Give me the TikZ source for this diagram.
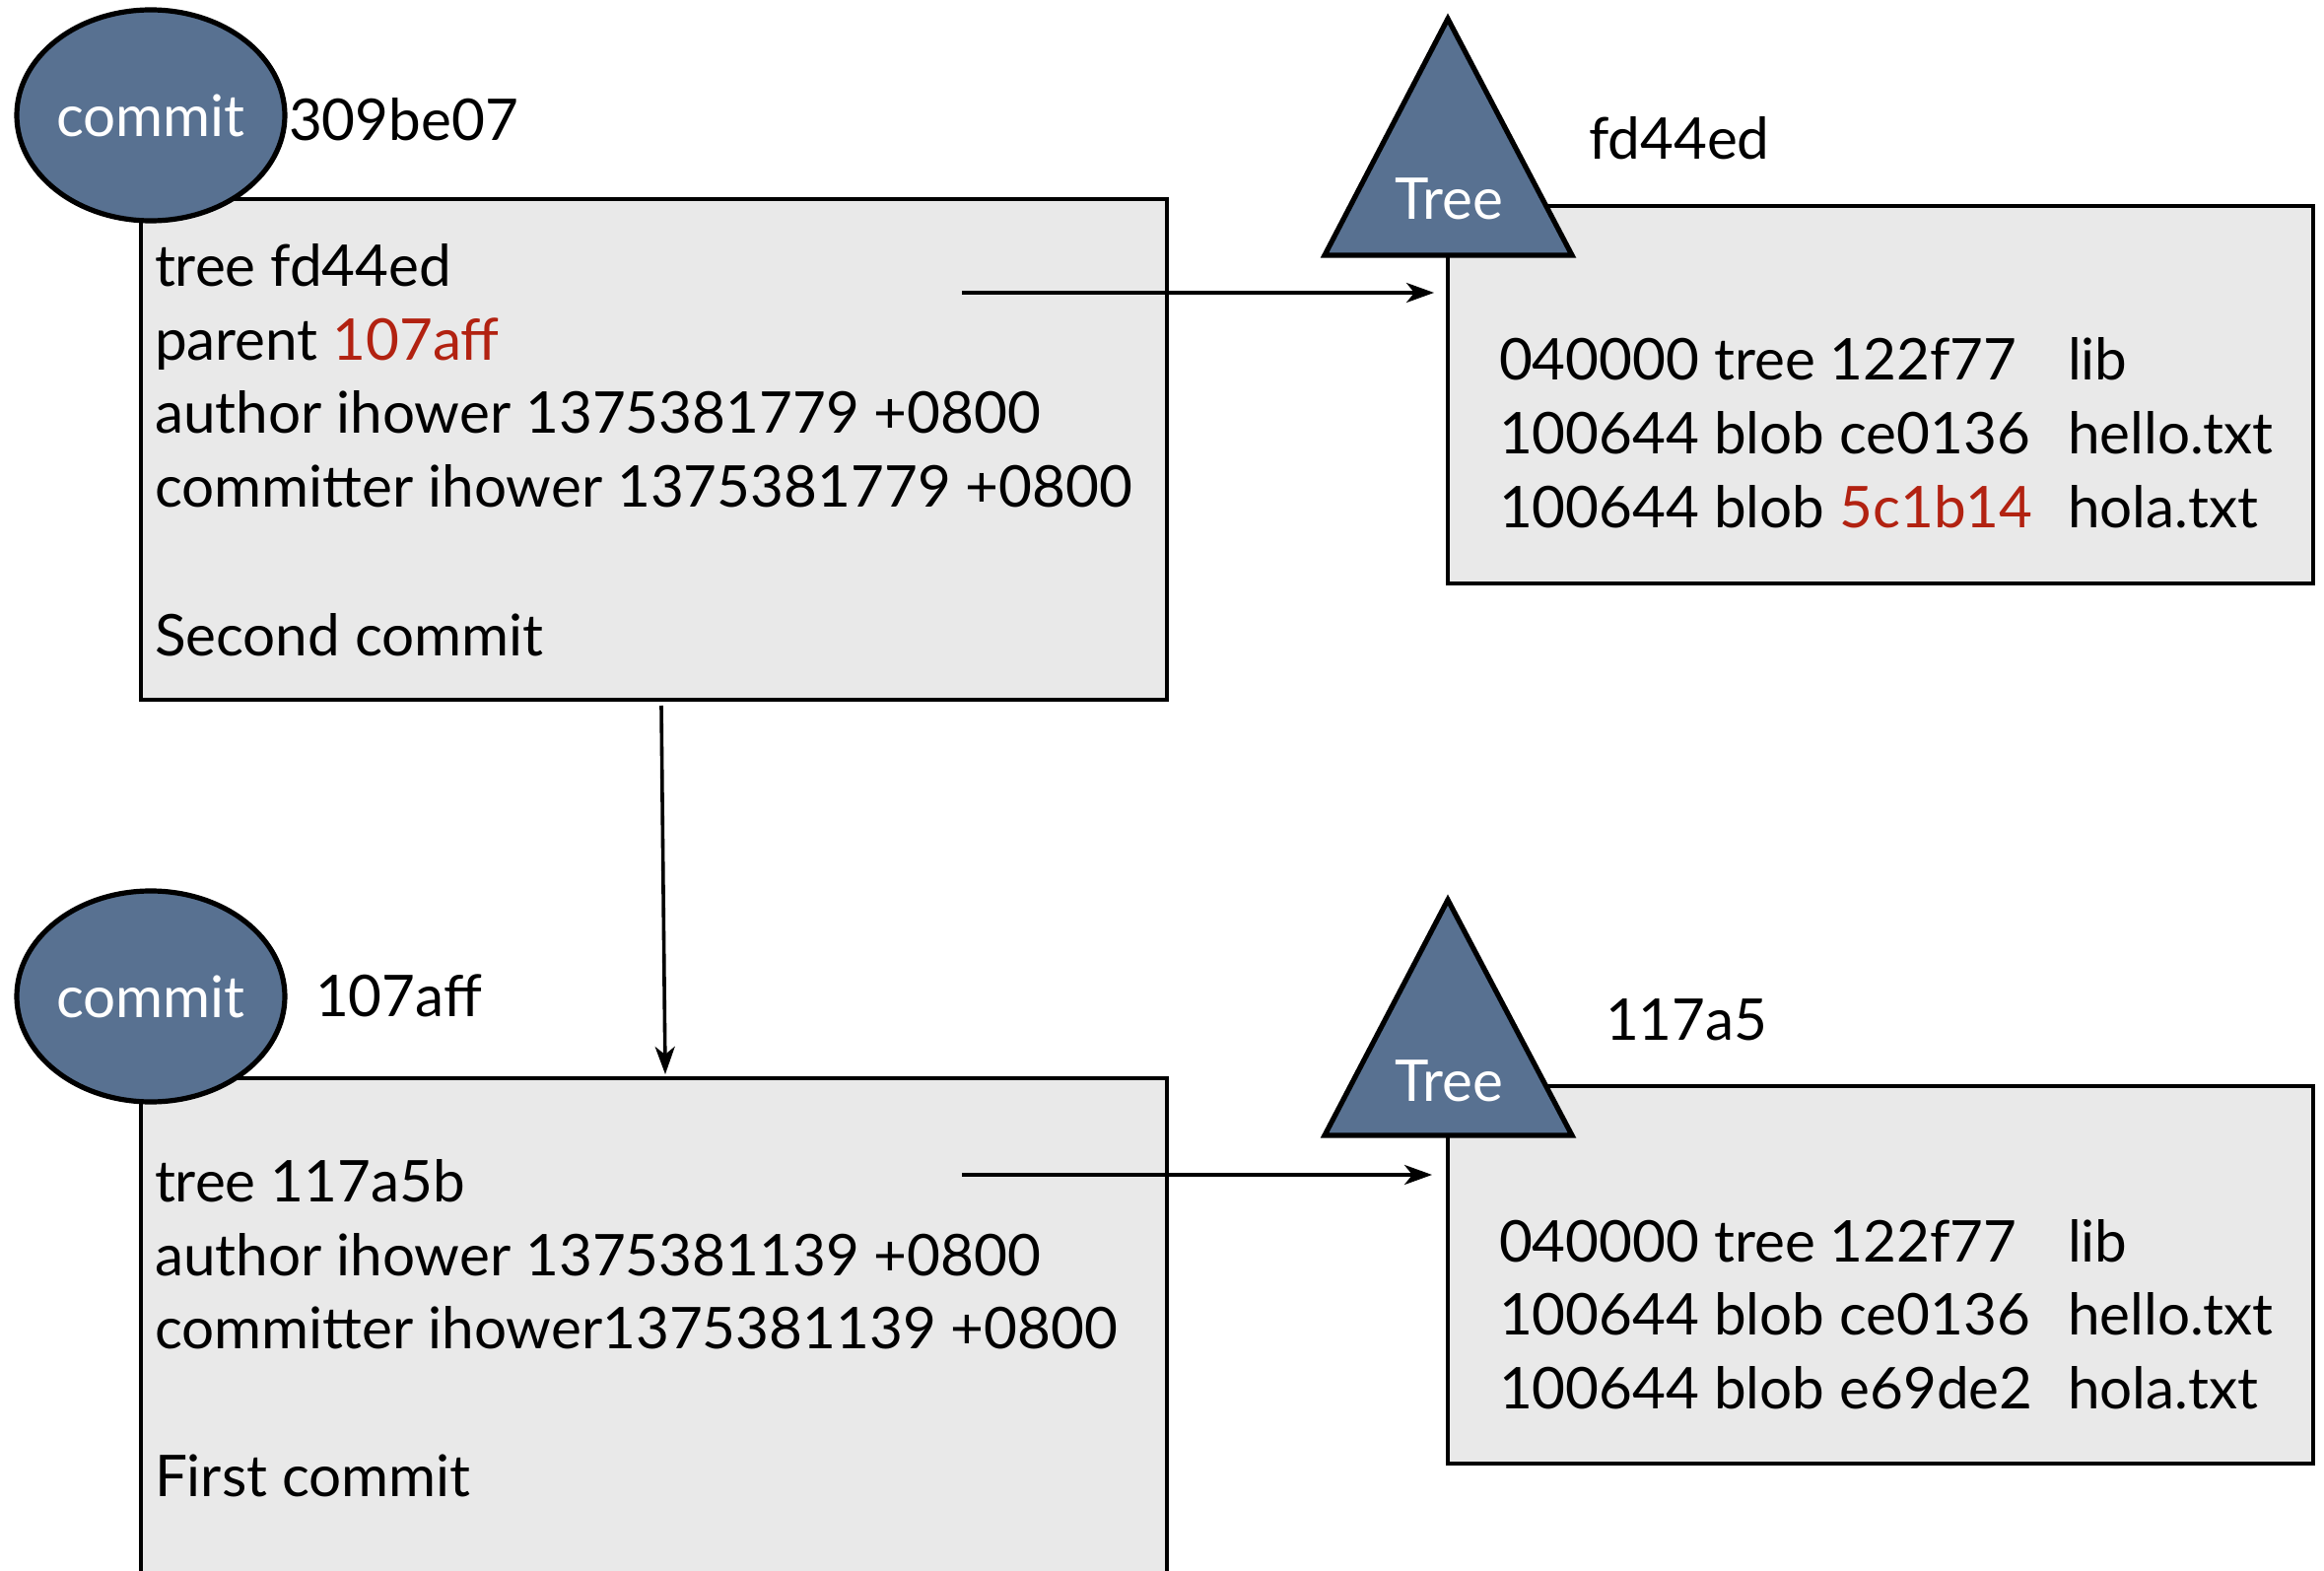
\documentclass[tikz,border=0pt]{standalone}
\usepackage{fontspec}
\setmainfont{Lato}
\usetikzlibrary{shapes.geometric,arrows.meta}
\definecolor{slate}{RGB}{88,113,145}
\definecolor{boxgray}{RGB}{233,233,233}
\definecolor{hashred}{RGB}{178,34,17}
\begin{document}
\begin{tikzpicture}[x=0.25pt,y=-0.25pt,
  every node/.style={inner sep=0pt, outer sep=0pt},
  txt/.style={anchor=base west, font=\fontsize{14.6}{17}\selectfont},
  boxnode/.style={draw=black, line width=1.2pt, fill=boxgray, anchor=north west},
  commitnode/.style={ellipse, draw=black, line width=1.3pt, fill=slate,
     minimum width=68pt, minimum height=53.5pt, text=white,
     font=\fontsize{14.6}{17}\selectfont},
  trishape/.style={draw=black, line width=1.3pt, fill=slate, line join=miter},
  tritext/.style={anchor=base, text=white, font=\fontsize{14.6}{17}\selectfont},
  arr/.style={line width=0.9pt, -{Stealth[length=7pt,width=5pt,inset=2pt]}}]
\useasboundingbox (0,0) rectangle (2358,1594);
\clip (0,0) rectangle (2358,1594);

% boxes
\node[boxnode, minimum width=260.25pt, minimum height=127pt] (b1) at (143,202) {};
\node[boxnode, minimum width=219.5pt, minimum height=95.75pt] (b2) at (1469,209) {};
\node[boxnode, minimum width=260.25pt, minimum height=136.5pt] (b3) at (143,1094) {};
\node[boxnode, minimum width=219.5pt, minimum height=95.75pt] (b4) at (1469,1102) {};

% commit ellipses
\node[commitnode] (c1) at (153,117) {commit};
\node[commitnode] (c2) at (153,1011) {commit};

% tree triangles
\draw[trishape] (1469,19) -- (1595,259) -- (1344,259) -- cycle;
\node[tritext] (t1) at (1470,223) {Tree};
\draw[trishape] (1469,913) -- (1595,1152) -- (1344,1152) -- cycle;
\node[tritext] (t2) at (1470,1117) {Tree};

% labels
\node[txt] (h1) at (293,143) {309be07};
\node[txt] (h2) at (320,1031) {107aff};
\node[txt] (h3) at (1612,162) {fd44ed};
\node[txt] (h4) at (1629,1055) {117a5};

% top commit content
\node[txt] (l11) at (157,291) {tree fd44ed};
\node[txt] (l12) at (157,366) {parent \textcolor{hashred}{107aff}};
\node[txt] (l13) at (157,440) {author ihower 1375381779 +0800};
\node[txt] (l14) at (157,514) {committer ihower 1375381779 +0800};
\node[txt] (l15) at (157,665) {Second commit};

% bottom commit content
\node[txt] (l21) at (157,1219) {tree 117a5b};
\node[txt] (l22) at (157,1294) {author ihower 1375381139 +0800};
\node[txt] (l23) at (157,1368) {committer ihower1375381139 +0800};
\node[txt] (l24) at (157,1518) {First commit};

% top tree content
\node[txt] (r11) at (1521,385) {040000 tree 122f77};
\node[txt] (r12) at (1521,460) {100644 blob ce0136};
\node[txt] (r13) at (1521,535) {100644 blob \textcolor{hashred}{5c1b14}};
\node[txt] (n11) at (2098,385) {lib};
\node[txt] (n12) at (2098,460) {hello.txt};
\node[txt] (n13) at (2098,535) {hola.txt};

% bottom tree content
\node[txt] (r21) at (1521,1280) {040000 tree 122f77};
\node[txt] (r22) at (1521,1354) {100644 blob ce0136};
\node[txt] (r23) at (1521,1429) {100644 blob e69de2};
\node[txt] (n21) at (2098,1280) {lib};
\node[txt] (n22) at (2098,1354) {hello.txt};
\node[txt] (n23) at (2098,1429) {hola.txt};

% connectors
\coordinate (a1) at (976,297);
\coordinate (a2) at (976,1192);
\draw[arr, shorten >=3.5pt] (a1) -- (a1 -| b2.west);
\draw[arr, shorten >=4pt] (a2) -- (a2 -| b4.west);
\draw[arr] ([shift={(7.5,6)}]b1.south) -- ([shift={(11.5,-4)}]b3.north);
\end{tikzpicture}
\end{document}
